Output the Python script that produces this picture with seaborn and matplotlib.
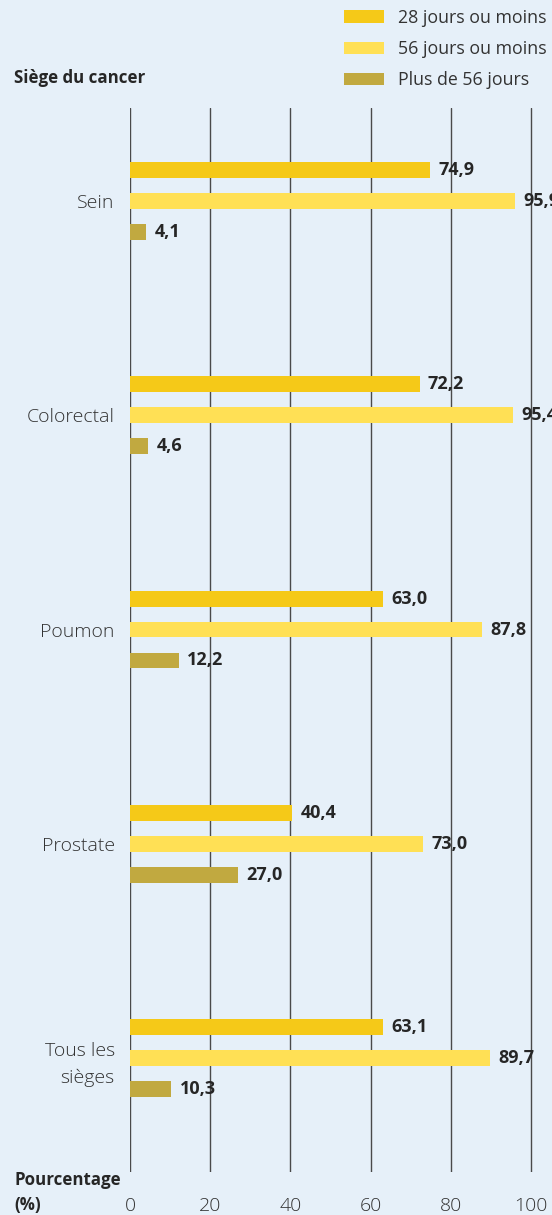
import matplotlib
matplotlib.use("Agg")
import matplotlib.pyplot as plt
import seaborn as sns
import pandas as pd

# Cancer sites and share of patients by waiting time (%)
sites = ["Sein", "Colorectal", "Poumon", "Prostate", "Tous les\nsièges"]
series = ["28 jours ou moins", "56 jours ou moins", "Plus de 56 jours"]
within_28 = [74.9, 72.2, 63.0, 40.4, 63.1]
within_56 = [95.9, 95.4, 87.8, 73.0, 89.7]
over_56 = [4.1, 4.6, 12.2, 27.0, 10.3]
x_ticks = [0, 20, 40, 60, 80, 100]

colors = ["#f5c918", "#ffe055", "#c1a940"]
bg = "#e6f0f9"
text_color = "#333333"

values = [within_28, within_56, over_56]
df = pd.DataFrame({
    "site": [s for _ in series for s in sites],
    "series": [name for name in series for _ in sites],
    "value": [v for vals in values for v in vals],
})

sns.set_theme(style="white")
plt.rcParams["font.family"] = ["Open Sans", "DejaVu Sans"]

W, H = 552, 1215
fig = plt.figure(figsize=(W / 100, H / 100), dpi=100, facecolor=bg)
ax = fig.add_axes([130 / W, 43 / H, (W - 130) / W, 1064 / H])
ax.set_facecolor(bg)

sns.barplot(data=df, y="site", x="value", hue="series", palette=colors,
            orient="h", width=0.434, gap=0.484, saturation=1, linewidth=0,
            order=sites, hue_order=series, ax=ax)

ax.set_xlim(0, (W - 130) / 4.01)
ax.set_ylim(4.532, -0.434)
ax.set_xticks(x_ticks)
ax.set_xticklabels([str(t) for t in x_ticks])
ax.set_xlabel("")
ax.set_ylabel("")
for sp in ax.spines.values():
    sp.set_visible(False)
ax.xaxis.grid(True, color="#4a4a4a", lw=1.0)
ax.set_axisbelow(True)
ax.tick_params(axis="x", length=0, pad=18, labelsize=14, labelcolor=text_color)
ax.tick_params(axis="y", length=0, pad=11, labelsize=14, labelcolor=text_color)
for lab in ax.get_xticklabels() + ax.get_yticklabels():
    lab.set_fontweight("light")
for lab in ax.get_yticklabels():
    lab.set_multialignment("right")
    lab.set_linespacing(1.6)

for container, vals in zip(ax.containers, values):
    ax.bar_label(container, labels=[f"{v:.1f}".replace(".", ",") for v in vals],
                 padding=6, fontsize=13, fontweight="bold", fontstretch="normal",
                 color="#262626", clip_on=False)

handles, labels = ax.get_legend_handles_labels()
ax.legend(handles, labels, loc="upper left", bbox_to_anchor=(344 / W, 1 - 9 / H),
          bbox_transform=fig.transFigure, frameon=False, fontsize=12.8,
          borderpad=0, borderaxespad=0, handlelength=2.25, handleheight=0.73,
          handletextpad=0.8, labelspacing=0.74, labelcolor=text_color)

for txt, ypix in [("Siège du cancer", 78), ("Pourcentage", 1180), ("(%)", 1205)]:
    fig.text(14 / W, 1 - ypix / H, txt, fontsize=12.2, fontweight="bold",
             color="#262626", va="center", ha="left")

fig.savefig("out.png", dpi=100, facecolor=bg)
